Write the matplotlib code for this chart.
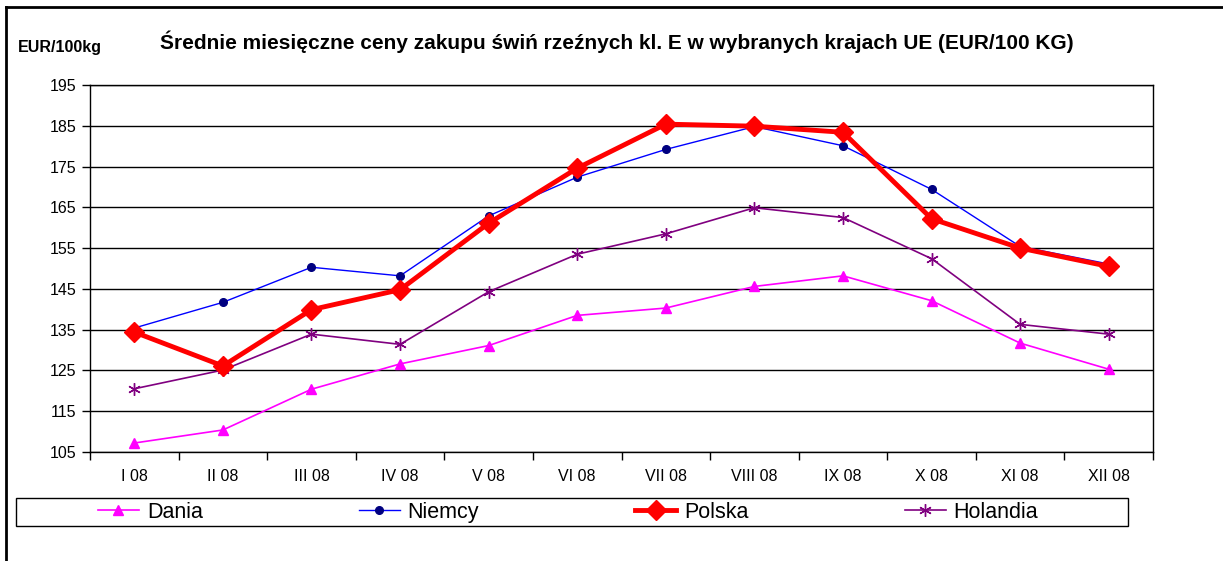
import matplotlib
matplotlib.use("Agg")
import matplotlib.pyplot as plt
from matplotlib.lines import Line2D
from matplotlib.patches import Rectangle

plt.rcParams['font.family'] = ['Liberation Sans', 'DejaVu Sans']

months = ["I 08", "II 08", "III 08", "IV 08", "V 08", "VI 08",
          "VII 08", "VIII 08", "IX 08", "X 08", "XI 08", "XII 08"]
dania = [107.2, 110.4, 120.4, 126.6, 131.1, 138.5, 140.3, 145.6, 148.2, 142.1, 131.7, 125.3]
niemcy = [135.4, 141.7, 150.3, 148.2, 162.9, 172.4, 179.2, 184.8, 180.1, 169.4, 155.4, 151.1]
polska = [134.4, 126.1, 139.9, 144.8, 161.1, 174.6, 185.4, 184.9, 183.4, 162.2, 155.0, 150.5]
holandia = [120.5, 125.1, 133.9, 131.4, 144.3, 153.5, 158.5, 164.9, 162.5, 152.4, 136.3, 133.9]
yticks = list(range(105, 196, 10))

fig = plt.figure(figsize=(12.23, 5.61), dpi=100)
ax = fig.add_axes([0.0736, 0.1943, 0.8692, 0.6542])

x = list(range(len(months)))
ax.plot(x, dania, color="#FF00FF", lw=1.2, marker="^", ms=7, mec="#FF00FF", mfc="#FF00FF", label="Dania", zorder=3)
ax.plot(x, niemcy, color="#0000FF", lw=1.0, marker="o", ms=5.5, mec="#000080", mfc="#000080", label="Niemcy", zorder=3)
ax.plot(x, polska, color="#FF0000", lw=3.5, marker="D", ms=10, mec="#FF0000", mfc="#FF0000", label="Polska", zorder=4)
ax.plot(x, holandia, color="#800080", lw=1.2, marker=(6, 2, 0), ms=9, mew=1.0, mec="#800080", label="Holandia", zorder=3)

ax.set_xlim(-0.5, len(months) - 0.5)
ax.set_ylim(105, 195)
ax.set_yticks(yticks)
ax.set_yticklabels([str(v) for v in yticks], fontsize=11.5)
ax.yaxis.grid(True, color="black", lw=1.0)
ax.set_axisbelow(True)

ax.set_xticks([i + 0.5 for i in range(-1, len(months))])
ax.set_xticklabels([])
ax.set_xticks(x, minor=True)
ax.set_xticklabels(months, minor=True, fontsize=11.5)
ax.tick_params(axis="x", which="minor", length=0, pad=12)
ax.tick_params(axis="x", which="major", length=6, width=1, direction="out")
ax.tick_params(axis="y", length=6, width=1, direction="out", pad=4)
for s in ax.spines.values():
    s.set_color("black")
    s.set_linewidth(1.0)

fig.text(0.5045, 0.925, "Średnie miesięczne ceny zakupu świń rzeźnych kl. E w wybranych krajach UE (EUR/100 KG)",
         ha="center", va="center", fontsize=15, fontweight="bold")
fig.text(0.015, 0.915, "EUR/100kg", ha="left", va="center", fontsize=11.5, fontweight="bold")

handles, labels = ax.get_legend_handles_labels()
leg = fig.legend(handles, labels, loc="center", ncol=4, bbox_to_anchor=(0.4645, 0.0873),
                 fontsize=15.5, frameon=False,
                 columnspacing=7.25, handlelength=1.9, handletextpad=0.37, borderpad=0.2)

# legend box
fig.add_artist(Rectangle((0.0131, 0.0624), 0.9092, 0.0499, fill=False, edgecolor="black",
                         lw=1.0, transform=fig.transFigure))

# outer frame of the chart area
fig.add_artist(Line2D([0.005, 0.005], [0.0, 0.987], color="black", lw=2, transform=fig.transFigure))
fig.add_artist(Line2D([0.005, 1.0], [0.987, 0.987], color="black", lw=2, transform=fig.transFigure))

fig.savefig("out.png", dpi=100)
